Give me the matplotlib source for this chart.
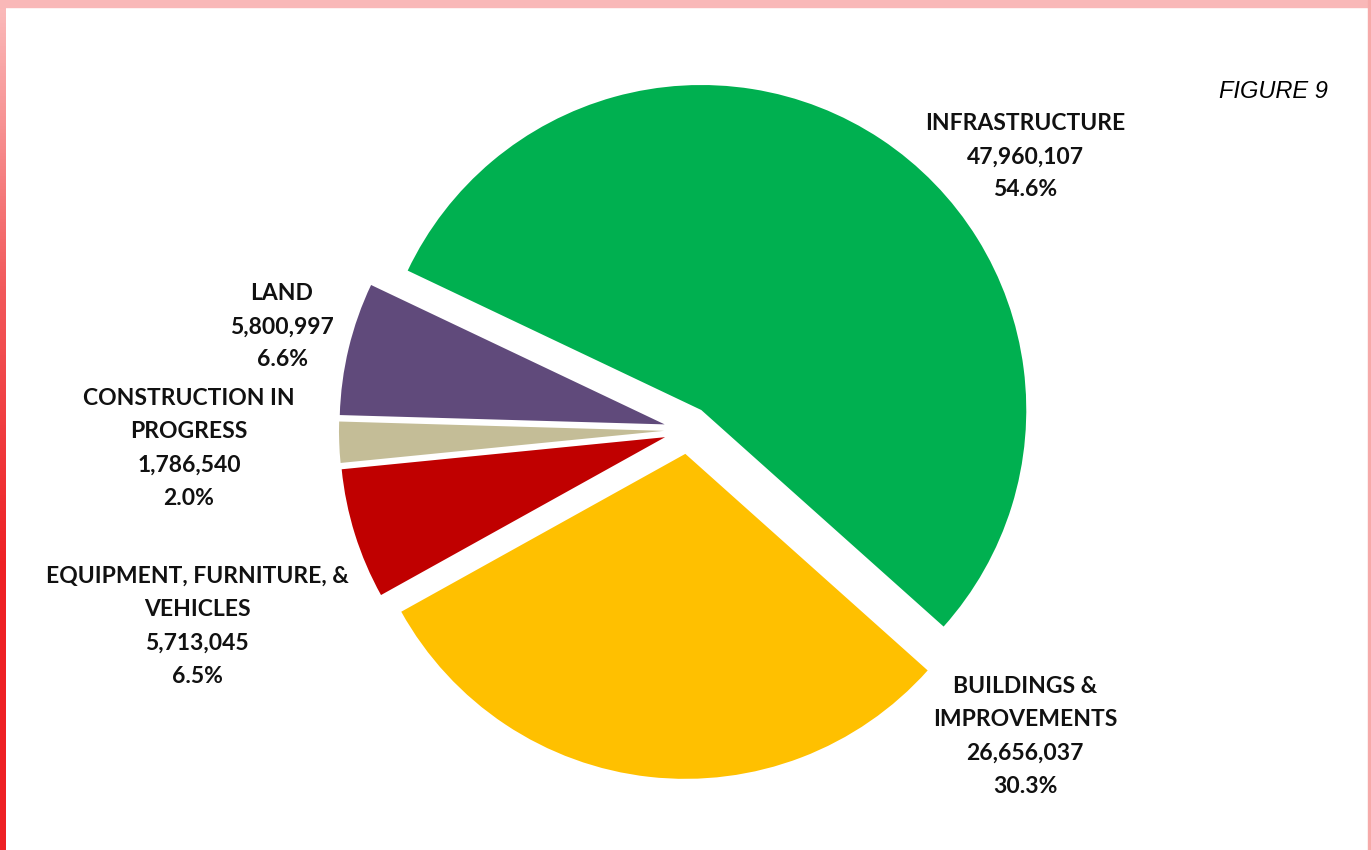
import matplotlib.pyplot as plt
import numpy as np
from matplotlib.patches import Rectangle
from matplotlib.colors import LinearSegmentedColormap

# capital assets by category (clockwise from the top-left)
names = ["INFRASTRUCTURE", "BUILDINGS &\nIMPROVEMENTS", "EQUIPMENT, FURNITURE, &\nVEHICLES",
         "CONSTRUCTION IN\nPROGRESS", "LAND"]
values = [47960107, 26656037, 5713045, 1786540, 5800997]
colors = ["#00b050", "#ffc000", "#c00000", "#c4bd97", "#604a7b"]

W, H = 1371, 850
fig = plt.figure(figsize=(W / 100, H / 100), dpi=100)
ax = fig.add_axes([0, 0, 1, 1])

# explode is in data units here (pixels)
ax.pie(values, colors=colors, startangle=154.6, counterclock=False,
       explode=[24] * len(values), center=(688, H - 430), radius=325,
       wedgeprops=dict(linewidth=0))
ax.set_xlim(0, W)
ax.set_ylim(0, H)
ax.set_aspect("equal")
ax.axis("off")

total = sum(values)
# label block centres in pixels (x, top y)
label_pos = [(1025, 113), (1025, 676), (197, 566), (189, 388), (282, 283)]
for name, v, (x, y) in zip(names, values, label_pos):
    txt = f"{name}\n{v:,}\n{v / total * 100:.1f}%"
    ax.text(x, H - y, txt, ha="center", va="top",
            fontsize=16.5, fontweight="bold", family="Lato", linespacing=1.72,
            color="#111111")

fig.text(1328 / W, 1 - 92 / H, "FIGURE 9", ha="right", va="center", fontsize=17,
         style="italic", family="Liberation Sans")

# pink frame: top band, gradient left band, thin right line
fig.patches.append(Rectangle((0, 1 - 7 / H), 1, 7 / H, transform=fig.transFigure,
                             color="#f9b8b8", zorder=5))
fig.patches.append(Rectangle((1 - 3 / W, 0), 3 / W, 1, transform=fig.transFigure,
                             color="#f7a9a9", zorder=5))
gax = fig.add_axes([0, 0, 6 / W, 1])
grad = np.linspace(0, 1, 256).reshape(-1, 1)
cmap = LinearSegmentedColormap.from_list("edge", ["#fbbcbc", "#f25a5c", "#ee2024", "#ee2024"])
gax.imshow(grad, aspect="auto", cmap=cmap, extent=[0, 1, 0, 1])
gax.axis("off")

fig.savefig("out.png", dpi=100)
